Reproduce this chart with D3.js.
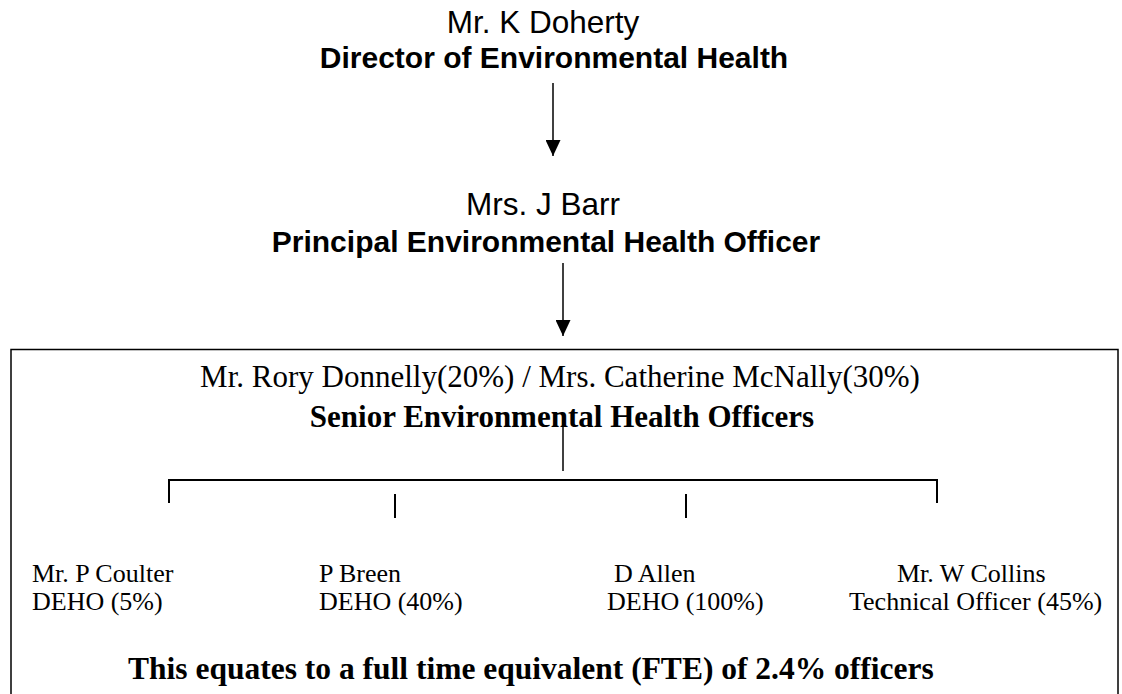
<!DOCTYPE html>
<html>
<head>
<meta charset="utf-8">
<script src="https://cdn.jsdelivr.net/npm/d3@7/dist/d3.min.js"></script>
<style>
  html, body { margin: 0; padding: 0; background: #fff; }
  svg { display: block; }
</style>
</head>
<body>
<script>
// ---- data ----
const topNames = ["Mr. K Doherty", "Mrs. J Barr"];
const topTitles = ["Director of Environmental Health", "Principal Environmental Health Officer"];
const seniorNames = ["Mr. Rory Donnelly", "Mrs. Catherine McNally"];
const seniorShares = [20, 30];
const seniorTitle = "Senior Environmental Health Officers";
const staffNames = ["Mr. P Coulter", "P Breen", "D Allen", "Mr. W Collins"];
const staffRoles = ["DEHO", "DEHO", "DEHO", "Technical Officer"];
const staffShares = [5, 40, 100, 45];
const fteText = "This equates to a full time equivalent (FTE) of 2.4% officers";

// ---- layout ----
const W = 1122, H = 694;
const svg = d3.select("body").append("svg").attr("width", W).attr("height", H);

const defs = svg.append("defs");
defs.append("marker").attr("id", "ah").attr("viewBox", "0 0 16 15")
  .attr("refX", 16).attr("refY", 7.5).attr("markerWidth", 16).attr("markerHeight", 15)
  .attr("markerUnits", "userSpaceOnUse").attr("orient", "auto")
  .append("path").attr("d", "M0,0 L16,7.5 L0,15 Z").attr("fill", "#000");

const arial = "Arial, 'Liberation Sans', Helvetica, sans-serif";
const times = "'Times New Roman', 'Liberation Serif', Times, serif";

// top levels
const topLayout = [
  { nameX: 543, nameY: 33, titleX: 554, titleY: 68, arrowX: 553, a0: 83, a1: 156 },
  { nameX: 543, nameY: 215, titleX: 546, titleY: 252, arrowX: 563, a0: 263, a1: 336 }
];
const tops = svg.selectAll("g.top").data(topNames).join("g").attr("class", "top");
tops.append("text")
  .attr("x", (d, i) => topLayout[i].nameX).attr("y", (d, i) => topLayout[i].nameY)
  .attr("text-anchor", "middle").attr("font-family", arial).attr("font-size", 31.5)
  .text(d => d);
tops.append("text")
  .attr("x", (d, i) => topLayout[i].titleX).attr("y", (d, i) => topLayout[i].titleY)
  .attr("text-anchor", "middle").attr("font-family", arial).attr("font-size", 30)
  .attr("font-weight", "bold")
  .text((d, i) => topTitles[i]);
tops.append("line")
  .attr("x1", (d, i) => topLayout[i].arrowX).attr("x2", (d, i) => topLayout[i].arrowX)
  .attr("y1", (d, i) => topLayout[i].a0).attr("y2", (d, i) => topLayout[i].a1)
  .attr("stroke", "#000").attr("stroke-width", 1.5).attr("marker-end", "url(#ah)");

// box
svg.append("rect").attr("x", 11).attr("y", 349.5).attr("width", 1107).attr("height", 400)
  .attr("fill", "none").attr("stroke", "#000").attr("stroke-width", 1.5);

// senior heading
const seniorLine = seniorNames.map((n, i) => `${n}(${seniorShares[i]}%)`).join(" / ");
svg.append("text").attr("x", 560).attr("y", 387).attr("text-anchor", "middle")
  .attr("font-family", times).attr("font-size", 31).text(seniorLine);
svg.append("text").attr("x", 562).attr("y", 427).attr("text-anchor", "middle")
  .attr("font-family", times).attr("font-size", 31).attr("font-weight", "bold").text(seniorTitle);

// connector
svg.append("line").attr("x1", 563).attr("x2", 563).attr("y1", 420).attr("y2", 471)
  .attr("stroke", "#000").attr("stroke-width", 1.5);

// bracket
const tickX = d3.scaleOrdinal().domain(staffNames).range([169, 395, 686, 937]);
const bracketY = 480;
svg.append("path")
  .attr("d", `M${tickX(staffNames[0])},503 V${bracketY} H${tickX(staffNames[3])} V503`)
  .attr("fill", "none").attr("stroke", "#000").attr("stroke-width", 2);
svg.selectAll("line.mid").data(staffNames.slice(1, 3)).join("line").attr("class", "mid")
  .attr("x1", d => tickX(d)).attr("x2", d => tickX(d)).attr("y1", 494).attr("y2", 518)
  .attr("stroke", "#000").attr("stroke-width", 2);

// staff
const nameX = [32, 319, 614, 897];
const roleX = [32, 319, 607, 849];
const staff = svg.selectAll("g.staff").data(staffNames).join("g").attr("class", "staff");
staff.append("text").attr("x", (d, i) => nameX[i]).attr("y", 582)
  .attr("font-family", times).attr("font-size", 26).text(d => d);
staff.append("text").attr("x", (d, i) => roleX[i]).attr("y", 610)
  .attr("font-family", times).attr("font-size", 26)
  .text((d, i) => `${staffRoles[i]} (${staffShares[i]}%)`);

// FTE line
svg.append("text").attr("x", 128).attr("y", 679)
  .attr("font-family", times).attr("font-size", 31.5).attr("font-weight", "bold").text(fteText);
</script>
</body>
</html>
